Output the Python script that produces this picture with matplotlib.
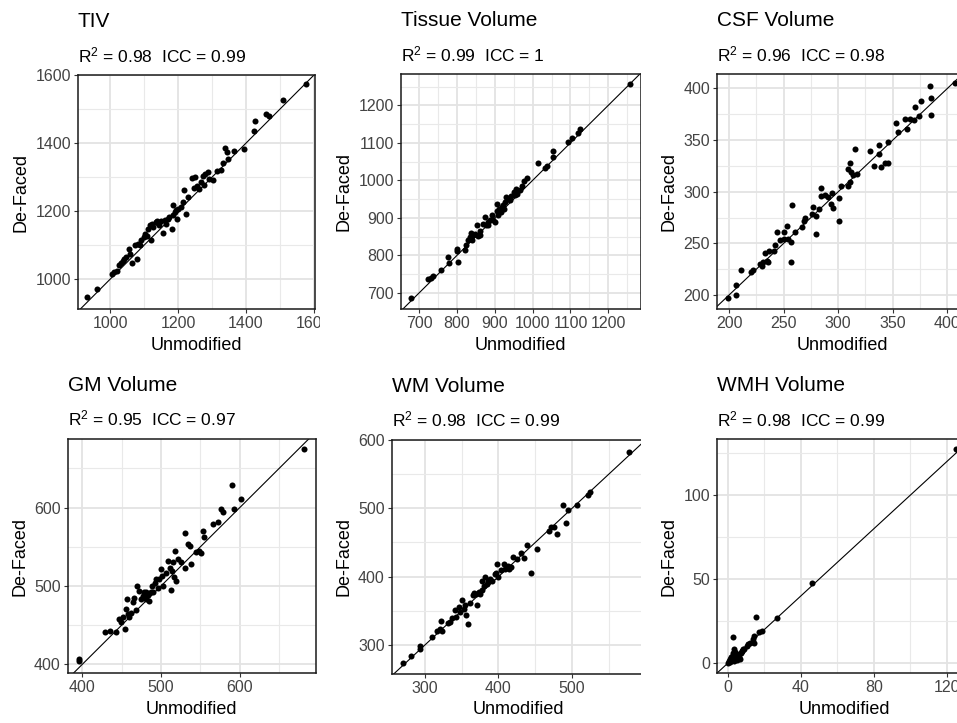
import matplotlib.pyplot as plt
from matplotlib.patches import Rectangle
from matplotlib.ticker import MultipleLocator

plt.rcParams['font.family'] = ['Liberation Sans', 'DejaVu Sans']
plt.rcParams['mathtext.fontset'] = 'custom'
plt.rcParams['mathtext.rm'] = 'Liberation Sans'
plt.rcParams['mathtext.it'] = 'Liberation Sans'

# values (Unmodified vs De-Faced)
tiv_unmod = [931, 960, 1005, 1012, 1019, 1027, 1031, 1036, 1041, 1056, 1058, 1064, 1078, 1074, 1081,
             1087, 1090, 1100, 1107, 1120, 1117, 1123, 1127, 1135, 1142, 1149, 1156, 1162, 1169, 1174,
             1181, 1184, 1186, 1192, 1198, 1201, 1208, 1215, 1218, 1223, 1228, 1241, 1248, 1251, 1255,
             1262, 1267, 1272, 1277, 1280, 1287, 1292, 1302, 1316, 1326, 1331, 1339, 1343, 1346, 1366,
             1395, 1423, 1426, 1459, 1469, 1508, 1577, 1110, 1144, 1164, 1194, 1046, 1137, 1103]
tiv_deface = [947, 972, 1016, 1021, 1025, 1040, 1048, 1052, 1060, 1089, 1075, 1048, 1060, 1099, 1104,
              1099, 1114, 1124, 1128, 1114, 1158, 1163, 1153, 1168, 1166, 1170, 1136, 1173, 1177, 1182,
              1148, 1217, 1187, 1197, 1177, 1207, 1212, 1226, 1261, 1192, 1241, 1297, 1268, 1300, 1275,
              1266, 1285, 1303, 1277, 1310, 1315, 1295, 1290, 1317, 1320, 1342, 1385, 1375, 1354, 1378,
              1383, 1437, 1464, 1486, 1481, 1528, 1575, 1148, 1158, 1163, 1202, 1065, 1172, 1133]

tissue_unmod = [678, 724, 731, 737, 757, 777, 779, 799, 801, 803, 821, 825, 830, 834, 837, 843, 849,
                853, 856, 861, 869, 874, 876, 883, 887, 893, 900, 905, 907, 912, 918, 922, 927, 931,
                935, 940, 944, 951, 955, 960, 966, 973, 978, 984, 1013, 1033, 1037, 1055, 1055, 1094,
                1103, 1121, 1125, 1257, 909, 916, 883, 861, 839, 953, 925, 896]
tissue_deface = [688, 736, 740, 744, 760, 796, 781, 812, 818, 783, 814, 827, 840, 849, 861, 854, 858,
                 880, 852, 864, 885, 903, 880, 889, 894, 907, 889, 938, 918, 925, 929, 935, 942, 956,
                 951, 947, 958, 969, 978, 965, 974, 985, 998, 1006, 1045, 1033, 1038, 1062, 1077, 1101,
                 1113, 1125, 1136, 1258, 907, 916, 880, 854, 840, 960, 925, 894]

csf_unmod = [199, 206, 206, 211, 220, 222, 228, 230, 231, 235, 236, 233, 237, 241, 242, 244, 247, 250,
             250, 253, 254, 257, 257, 258, 260, 267, 270, 269, 280, 276, 277, 280, 282, 284, 284, 288,
             291, 293, 294, 295, 301, 301, 303, 309, 309, 311, 312, 314, 315, 311, 317, 329, 333, 337,
             337, 339, 343, 346, 346, 353, 355, 361, 363, 366, 370, 369, 374, 376, 384, 385, 385, 407]
csf_deface = [197, 200, 210, 224, 222, 224, 230, 228, 232, 233, 232, 241, 243, 243, 248, 261, 253, 261,
              254, 267, 254, 251, 232, 287, 261, 266, 275, 272, 259, 278, 285, 277, 283, 304, 296, 297,
              295, 288, 299, 284, 294, 272, 306, 306, 322, 328, 319, 316, 341, 309, 317, 339, 325, 337,
              345, 324, 328, 328, 348, 367, 358, 370, 361, 370, 382, 369, 373, 388, 402, 391, 374, 405]

gm_unmod = [396, 396, 429, 435, 443, 447, 449, 454, 452, 458, 456, 460, 462, 457, 464, 466, 468, 470,
            472, 475, 477, 479, 481, 483, 485, 487, 489, 492, 494, 496, 500, 501, 503, 506, 509, 511,
            513, 514, 517, 519, 518, 521, 525, 531, 531, 534, 537, 538, 544, 548, 551, 553, 554, 566,
            572, 576, 579, 590, 593, 602, 682, 481, 515, 497, 490]
gm_deface = [405, 407, 441, 443, 441, 458, 454, 445, 460, 464, 471, 460, 466, 483, 479, 485, 470, 500,
             494, 483, 487, 492, 483, 488, 481, 492, 500, 504, 509, 498, 521, 513, 500, 517, 532, 523,
             495, 519, 511, 506, 545, 534, 530, 523, 567, 553, 551, 528, 543, 545, 542, 570, 562, 579,
             582, 598, 594, 629, 598, 611, 674, 492, 530, 509, 492]

wm_unmod = [270, 281, 294, 294, 310, 316, 321, 322, 323, 334, 337, 341, 343, 346, 348, 351, 353, 356,
            359, 362, 365, 367, 371, 369, 373, 377, 378, 382, 381, 384, 386, 389, 391, 395, 398, 400,
            404, 407, 409, 413, 417, 420, 425, 431, 435, 439, 444, 452, 468, 472, 476, 479, 488, 492,
            495, 506, 522, 524, 577, 375, 396, 414, 355, 332]
wm_deface = [274, 284, 299, 294, 312, 320, 323, 335, 320, 334, 339, 351, 341, 355, 348, 366, 353, 344,
             331, 361, 373, 376, 358, 375, 377, 380, 393, 400, 387, 389, 393, 397, 394, 404, 419, 399,
             409, 418, 411, 416, 414, 429, 426, 435, 427, 446, 405, 441, 467, 472, 472, 462, 505, 479,
             498, 505, 520, 524, 582, 375, 406, 411, 358, 332]

wmh_unmod = [124.9, 46.4, 26.8, 15.3, 3.1, 18.6, 17.2, 14.6, 14.1, 14.6, 10.4, 9.1, 7.7, 6.2, 4.9, 4.0,
             3.1, 2.2, 1.3, 0.4, 2.6, 3.7, 4.4, 6.8, 5.5, 11.3, 12.2, 0.7, 1.8, 8.6, 3.3, 4.7,
             2.5, 5.0, 6.0, 7.5, 3.5, 1.0, 8.0, 5.2, 2.9]
wmh_deface = [127.4, 47.6, 27.2, 27.8, 15.7, 19.2, 18.3, 16.3, 14.3, 12.3, 10.3, 8.7, 7.3, 5.4, 3.4, 2.4,
              4.4, 2.0, 0.8, 0.4, 6.3, 6.7, 2.8, 2.4, 4.4, 11.3, 12.3, 1.4, 4.0, 8.3, 8.3, 5.4,
              3.5, 5.0, 4.0, 6.0, 1.5, 2.5, 7.0, 2.0, 5.1]

titles = ['TIV', 'Tissue Volume', 'CSF Volume', 'GM Volume', 'WM Volume', 'WMH Volume']
r2_vals = ['0.98', '0.99', '0.96', '0.95', '0.98', '0.98']
icc_vals = ['0.99', '1', '0.98', '0.97', '0.99', '0.99']
xs = [tiv_unmod, tissue_unmod, csf_unmod, gm_unmod, wm_unmod, wmh_unmod]
ys = [tiv_deface, tissue_deface, csf_deface, gm_deface, wm_deface, wmh_deface]

# layout in pixels: left, top, right, bottom; limits; major tick steps; column
layout = [
    ((78, 75, 315, 309), (904.8, 1603.4), (911.8, 1600.5), 200, 200, 0),
    ((400.7, 74, 640.5, 309), (651.6, 1285), (657.4, 1283.4), 100, 100, 1),
    ((717, 74, 967, 309), (189, 418), (186.5, 414), 50, 50, 2),
    ((67.7, 438.7, 316, 673.3), (381.6, 696.6), (388.7, 687.7), 100, 100, 0),
    ((391.7, 439.5, 645, 674), (255, 599), (257.7, 600.5), 100, 100, 1),
    ((717, 439.3, 971, 673.3), (-5.9, 133.3), (-6, 133.3), 40, 50, 2),
]

W, H = 957, 723
fig = plt.figure(figsize=(W / 100, H / 100), dpi=100)

for i in range(6):
    (l, t, r, b), xlim, ylim, xstep, ystep, col = layout[i]
    ax = fig.add_axes([l / W, 1 - b / H, (r - l) / W, (b - t) / H], zorder=1 + 2 * col)
    ax.set_xlim(xlim)
    ax.set_ylim(ylim)
    ax.xaxis.set_major_locator(MultipleLocator(xstep))
    ax.xaxis.set_minor_locator(MultipleLocator(xstep / 2))
    ax.yaxis.set_major_locator(MultipleLocator(ystep))
    ax.yaxis.set_minor_locator(MultipleLocator(ystep / 2))
    ax.grid(which='major', color='#E3E3E3', lw=1.3)
    ax.grid(which='minor', color='#E9E9E9', lw=0.8)
    ax.set_axisbelow(True)
    ax.tick_params(which='major', direction='out', length=3, width=0.8, color='#333333',
                   labelcolor='#444444', labelsize=11.5, pad=2)
    ax.tick_params(which='minor', length=0)
    for sp in ax.spines.values():
        sp.set_color('#1a1a1a')
        sp.set_linewidth(1.1)

    ax.axline((0, 0), slope=1, color='black', lw=0.8, zorder=2)
    ax.scatter(xs[i], ys[i], s=19, c='black', linewidths=0, zorder=3)

    ax.set_xlabel('Unmodified', fontsize=13, labelpad=4)
    ax.set_ylabel('De-Faced', fontsize=13, labelpad=4)
    ax.annotate(titles[i], xy=(0, 1), xycoords='axes fraction', xytext=(0, 34.5),
                textcoords='offset points', fontsize=15, ha='left', va='baseline',
                annotation_clip=False)
    ax.annotate(r'R$^{\mathrm{2}}$ = ' + r2_vals[i] + '  ICC = ' + icc_vals[i], xy=(0, 1),
                xycoords='axes fraction', xytext=(0, 9.4), textcoords='offset points',
                fontsize=12.5, ha='left', va='baseline', annotation_clip=False)

# each column was a separate image: hide what spills over into the next one
for x0, x1, z in [(320, 640.5, 2), (640.5, 957, 4)]:
    fig.add_artist(Rectangle((x0 / W, 0), (x1 - x0) / W, 1, transform=fig.transFigure,
                             facecolor='white', edgecolor='none', zorder=z))

fig.savefig('out.png', dpi=100)
